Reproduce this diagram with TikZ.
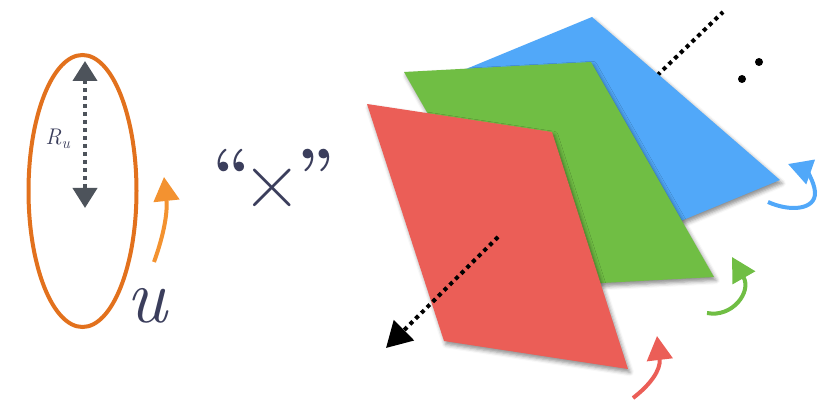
\documentclass[tikz,border=0pt]{standalone}
\usepackage{fontspec}
\usetikzlibrary{arrows.meta,shadows.blur}
\definecolor{navy}{HTML}{3B3E5C}
\definecolor{darkgray}{HTML}{4D535B}
\definecolor{ellorange}{HTML}{E2711D}
\definecolor{arrorange}{HTML}{F39230}
\definecolor{pblue}{HTML}{51A8F9}
\definecolor{pgreen}{HTML}{70BE44}
\definecolor{pred}{HTML}{EB5E57}
\tikzset{
  plane/.style={blur shadow={shadow xshift=1.5pt, shadow yshift=-2.5pt, shadow blur radius=3pt, shadow opacity=45}},
  dotline/.style={line width=3pt, dash pattern=on 3pt off 3pt},
  rotarrow/.style={line width=3pt, -{Triangle[width=19pt,length=18pt]}},
  bigtext/.style={navy, inner sep=0pt},
}
\newcommand{\qfont}{\fontsize{50}{50}\selectfont\bfseries}
\begin{document}
\begin{tikzpicture}[x=0.75pt,y=-0.75pt]
\useasboundingbox (0,0) rectangle (834,402);
% left part
\draw[ellorange, line width=3pt] (82.5,191) ellipse [x radius=40.5pt, y radius=102pt];
\coordinate (rtop) at (85,61);
\coordinate (rbot) at (85,208);
\draw[darkgray, dotline, {Triangle[width=18pt,length=15pt]}-{Triangle[width=18pt,length=15pt]}] (rtop) -- (rbot);
\node[navy, font=\fontsize{17}{17}\selectfont] (ru) at (58,139) {\itshape R\textsubscript{u}};
\coordinate (oa) at (154,262);
\coordinate (ob) at (164,177);
\draw[arrorange, rotarrow] (oa) .. controls (162,240) and (168,215) .. (ob);
\node[bigtext, font=\fontsize{58}{58}\selectfont\itshape] (u) at (147,306) {u};
% times
\node[bigtext, anchor=base, font=\fontsize{62}{62}\selectfont] (x) at (273.5,209)
  {{\qfont\raisebox{10pt}{“}}\hspace{-5.6pt}×\hspace{-3.4pt}{\qfont\raisebox{10pt}{”}}};
% dotted line behind blue
\coordinate (d1) at (640,92);
\coordinate (d2) at (723,12);
\draw[black, dotline] (d1) -- (d2);
% planes
\fill[pblue, plane] (592,17) -- (780,180) -- (625,244) -- (437,81) -- cycle;
\fill[pgreen, plane] (404,72) -- (591,62) -- (714,277) -- (527,287) -- cycle;
\fill[pred, plane] (367,104) -- (552,132) -- (628,369) -- (444,341) -- cycle;
% dotted arrow
\coordinate (a1) at (498,237);
\coordinate (a2) at (386,348);
\draw[black, dotline, -{Triangle[width=21pt,length=19pt]}] (a1) -- (a2);
% dots
\fill (742,79) circle [radius=3pt];
\fill (759,62) circle [radius=3pt];
% rotation arrows
\coordinate (ra) at (633,398);
\coordinate (rb) at (657,336);
\draw[pred, rotarrow] (ra) .. controls (650,385) and (661,370) .. (rb);
\coordinate (ga) at (707,313);
\coordinate (gb) at (732,257);
\draw[pgreen, rotarrow] (ga) .. controls (732,318) and (752,292) .. (gb);
\coordinate (ba) at (768,202);
\coordinate (bb) at (788,164);
\draw[pblue, rotarrow] (ba) .. controls (790,212) and (816,210) .. (815,192) .. controls (814,180) and (805,170) .. (bb);
\end{tikzpicture}
\end{document}
